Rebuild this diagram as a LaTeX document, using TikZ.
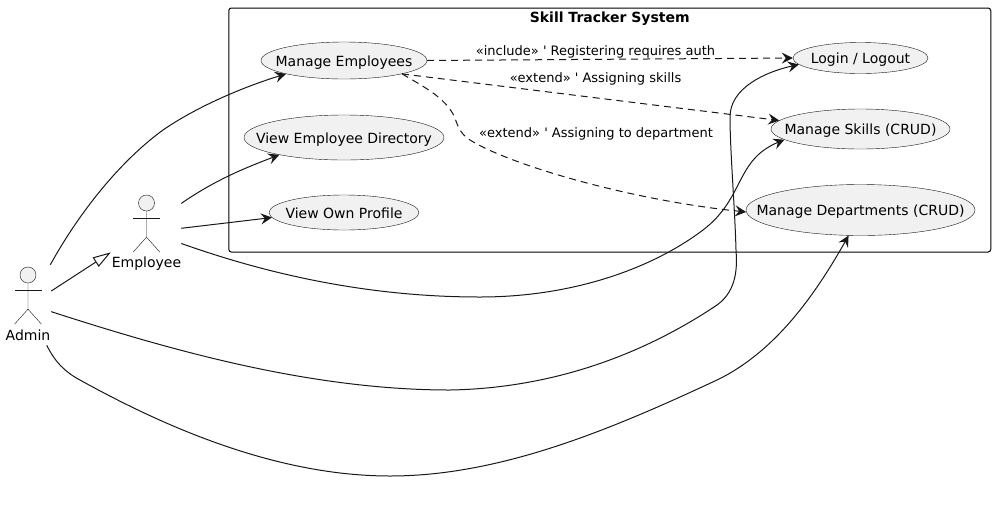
\documentclass[tikz,border=0pt]{standalone}
\usepackage{fontspec}
\setmainfont{DejaVu Sans}
\usetikzlibrary{arrows.meta,shapes.geometric}
\definecolor{umlink}{HTML}{181818}
\definecolor{umlfill}{HTML}{F1F1F1}
\newcommand{\casetext}[1]{\makebox[0pt]{\raisebox{-4.3pt}[0pt][0pt]{#1}}}
\tikzset{
  usecase/.style={ellipse, draw=umlink, line width=0.3pt, fill=umlfill, inner sep=0pt, font=\fontsize{10.5}{12}\selectfont, text=black},
  actorhead/.style={circle, draw=umlink, line width=0.3pt, fill=umlfill, inner sep=0pt, minimum size=12pt},
  actorbox/.style={rectangle, inner sep=0pt, minimum width=#1, minimum height=60pt},
  actorlabel/.style={inner sep=0pt, font=\fontsize{10.5}{12}\selectfont},
  edgelabel/.style={inner sep=0pt, font=\fontsize{9.75}{12}\selectfont},
  assoc/.style={draw=umlink, line width=0.75pt, -{Stealth[length=8.25pt,width=8.25pt,inset=3pt]}},
  depend/.style={assoc, dash pattern=on 5.25pt off 3.75pt}
}
\begin{document}
\begin{tikzpicture}[x=0.75pt,y=-0.75pt]
  \useasboundingbox (0,0) rectangle (996,519);
  % system frame
  \node[draw=black, line width=0.75pt, rounded corners=2pt, minimum width=571.5pt, minimum height=183pt, inner sep=0pt] (system) at (609.75,130) {};
  \node[inner sep=0pt, font=\bfseries\fontsize{10.5}{12}\selectfont] (systemtitle) at (609.75,18.5) {Skill Tracker System};

  % use cases
  \node[usecase, minimum width=124.5pt, minimum height=27.75pt] (mgremp) at (344,60.5) {\casetext{Manage Employees}};
  \node[usecase, minimum width=150pt, minimum height=33.75pt] (viewdir) at (344,137.5) {\casetext{View Employee Directory}};
  \node[usecase, minimum width=112.5pt, minimum height=26.25pt] (viewown) at (344,212.5) {\casetext{View Own Profile}};
  \node[usecase, minimum width=101.25pt, minimum height=23.25pt] (login) at (860.5,58) {\casetext{Login / Logout}};
  \node[usecase, minimum width=134.25pt, minimum height=30pt] (mgrskill) at (860.5,129) {\casetext{Manage Skills (CRUD)}};
  \node[usecase, minimum width=171.75pt, minimum height=38.25pt] (mgrdept) at (860.5,210) {\casetext{Manage Departments (CRUD)}};

  % actors
  \node[actorbox=34.5pt] (admin) at (28,305) {};
  \node[actorbox=52.5pt, minimum height=58.5pt] (employee) at (146,232) {};
  \node[actorhead] (adminhead) at (28,275) {};
  \node[actorhead] (employeehead) at (146.5,203) {};
  \node[actorlabel] (adminlabel) at (28,335.5) {Admin};
  \node[actorlabel] (employeelabel) at (146.5,263.5) {Employee};
  \foreach \Head in {adminhead,employeehead}{
    \draw[draw=umlink, line width=0.3pt] (\Head.south) -- ++(0,26) -- ++(-13.5,15);
    \draw[draw=umlink, line width=0.3pt] (\Head.south) ++(0,26) -- ++(13.5,15);
    \draw[draw=umlink, line width=0.3pt] (\Head.south) ++(-13.5,7) -- ++(27,0);
  }

  % generalisation
  \draw[draw=umlink, line width=0.75pt, -{Triangle[open,length=13.5pt,width=8.25pt,fill=white]}] (admin.31.3) -- (employee.210.5);

  % associations
  \draw[assoc] (admin.61.7) .. controls (75,220) and (115,165) .. (163,130)
    .. controls (195,108) and (240,88) .. (mgremp.193.1);
  \draw[assoc] (employee.39.6) .. controls (215,180) and (245,168) .. (viewdir.195.7);
  \draw[assoc] (employee.6.5) -- (viewown.184.6);
  \draw[assoc] (employee.-18.9) .. controls (270,275) and (370,297) .. (480,297)
    .. controls (570,297) and (650,270) .. (703,230)
    .. controls (745,198) and (735,160) .. (mgrskill.188.6);
  \draw[assoc] (admin.-16.9) .. controls (170,350) and (310,390) .. (450,390)
    .. controls (560,388) and (650,350) .. (717,305)
    .. controls (738,290) and (737,265) .. (736,250)
    .. controls (735,210) and (730,150) .. (730,117)
    .. controls (730,88) and (765,72) .. (login.186.3);
  \draw[assoc] (admin.-65.3) .. controls (55,362) and (65,372) .. (80,380)
    .. controls (170,430) and (280,476) .. (390,476)
    .. controls (500,476) and (610,430) .. (717,380)
    .. controls (775,352) and (815,295) .. (mgrdept.245.2);

  % dependencies
  \draw[depend] (mgremp.east) -- (login.west);
  \draw[depend] (mgremp.-13.6) -- (mgrskill.174.5);
  \draw[depend] (mgremp.-13.6) .. controls (430,90) and (447,100) .. (455,118)
    .. controls (458,128) and (462,135) .. (470,140)
    .. controls (510,165) and (630,200) .. (mgrdept.181);

  \node[edgelabel] (includelabel) at (595.5,51.5) {«include» \textquotesingle{} Registering requires auth};
  \node[edgelabel] (skilllabel) at (595.5,78.5) {«extend» \textquotesingle{} Assigning skills};
  \node[edgelabel] (deptlabel) at (596,133.5) {«extend» \textquotesingle{} Assigning to department};
\end{tikzpicture}
\end{document}
